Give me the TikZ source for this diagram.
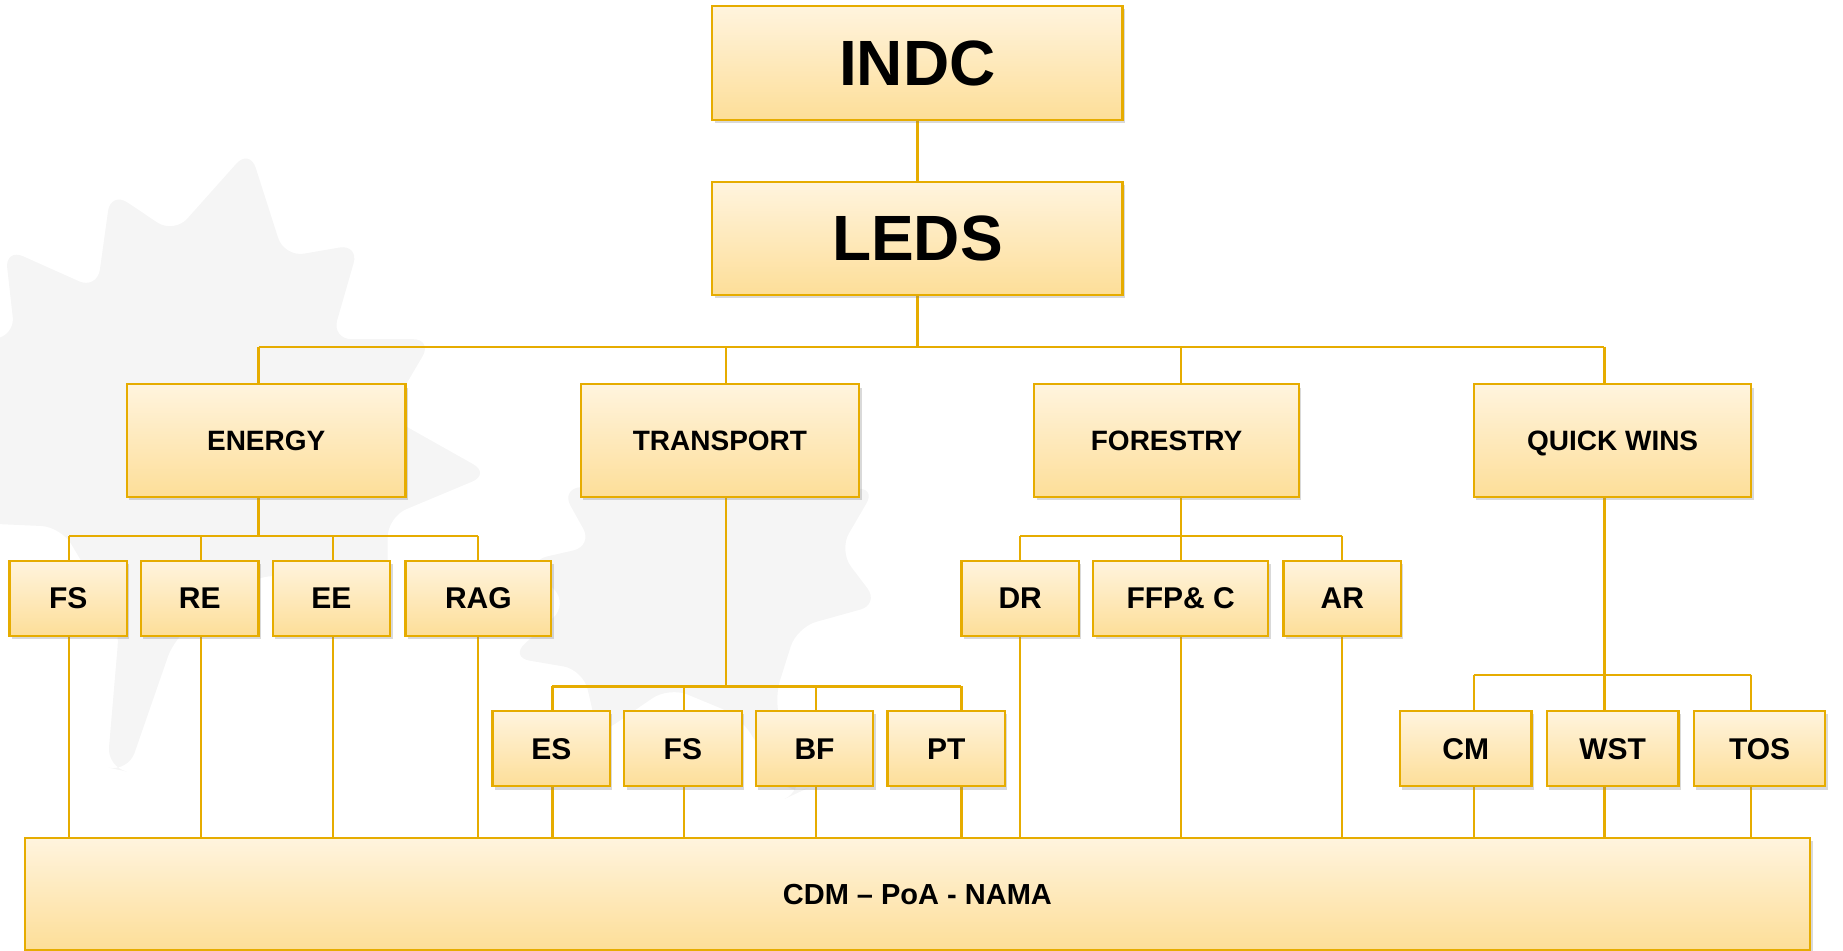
\documentclass[tikz,border=0pt]{standalone}
\usepackage{fontspec}
\setmainfont{Liberation Sans}
\usetikzlibrary{shadows,backgrounds}
\newcommand\U{0.5877pt}
\definecolor{gold}{RGB}{230,172,0}
\definecolor{ftop}{RGB}{255,244,222}
\definecolor{fbot}{RGB}{253,222,152}
\definecolor{leafgray}{RGB}{245,245,245}
\tikzset{
 box/.style={draw=gold, line width=1.1pt, top color=ftop, bottom color=fbot, inner sep=0pt,
   text depth=0pt,
   drop shadow={shadow xshift=1.2pt, shadow yshift=-1.6pt, opacity=0.3}},
 conn/.style={draw=gold, line width=1.1pt},
 leaf/.style={fill=leafgray, draw=none, rounded corners=10pt},
 bigtxt/.style={font=\bfseries\fontsize{32}{36}\selectfont},
 midtxt/.style={font=\bfseries\fontsize{14}{17}\selectfont},
 smalltxt/.style={font=\bfseries\fontsize{15}{18}\selectfont},
 cdmtxt/.style={font=\bfseries\fontsize{14.5}{17}\selectfont},
}
\newcommand\mybox[7]{\node[box,#7, minimum width={(#3-#2)*\U}, minimum height={(#5-#4)*\U}] (#1) at ({(#2+#3)/2},{(#4+#5)/2}) {#6};}
\newcommand\mapleleaf{(0,1) -- (0.16,0.72) -- (0.36,0.8) -- (0.34,0.52) -- (0.62,0.58) -- (0.54,0.34) -- (0.86,0.24) -- (0.6,0.06) -- (0.66,-0.22) -- (0.3,-0.16) -- (0.08,-0.4) -- (0.03,-0.8) -- (-0.03,-0.8) -- (-0.08,-0.4) -- (-0.3,-0.16) -- (-0.66,-0.22) -- (-0.6,0.06) -- (-0.86,0.24) -- (-0.54,0.34) -- (-0.62,0.58) -- (-0.34,0.52) -- (-0.36,0.8) -- (-0.16,0.72) -- cycle}
\begin{document}
\begin{tikzpicture}[x=\U,y=-\U]
\useasboundingbox (0,0) rectangle (1568,809);
\mybox{INDC}{606}{955}{5}{102}{INDC}{bigtxt}
\mybox{LEDS}{606}{955}{155}{251}{LEDS}{bigtxt}
\mybox{ENERGY}{108}{345}{327}{423}{ENERGY}{midtxt}
\mybox{TRANSPORT}{494}{731}{327}{423}{TRANSPORT}{midtxt}
\mybox{FORESTRY}{880}{1105}{327}{423}{FORESTRY}{midtxt}
\mybox{QW}{1254}{1490}{327}{423}{QUICK WINS}{midtxt}
\mybox{FS1}{8}{108}{477}{541}{FS}{smalltxt}
\mybox{RE}{120}{220}{477}{541}{RE}{smalltxt}
\mybox{EE}{232}{332}{477}{541}{EE}{smalltxt}
\mybox{RAG}{345}{469}{477}{541}{RAG}{smalltxt}
\mybox{ES}{419}{519}{605}{669}{ES}{smalltxt}
\mybox{FS2}{531}{631}{605}{669}{FS}{smalltxt}
\mybox{BF}{643}{743}{605}{669}{BF}{smalltxt}
\mybox{PT}{755}{855}{605}{669}{PT}{smalltxt}
\mybox{DR}{818}{918}{477}{541}{DR}{smalltxt}
\mybox{FFP}{930}{1079}{477}{541}{FFP\& C}{smalltxt}
\mybox{AR}{1092}{1192}{477}{541}{AR}{smalltxt}
\mybox{CM}{1191}{1303}{605}{669}{CM}{smalltxt}
\mybox{WST}{1316}{1428}{605}{669}{WST}{smalltxt}
\mybox{TOS}{1441}{1553}{605}{669}{TOS}{smalltxt}
\mybox{CDM}{21}{1540}{713}{808}{CDM – PoA - NAMA}{cdmtxt}
\coordinate (bus0) at (0,295);
\coordinate (busE) at (0,456);
\coordinate (busT) at (0,584);
\coordinate (busF) at (0,456);
\coordinate (busQ) at (0,574);
\begin{scope}[on background layer]
% faint watermark leaves
\begin{scope}[shift={(150,420)}, scale=300, yscale=-1, rotate=12]
  \fill[leaf] \mapleleaf;
\end{scope}
\begin{scope}[shift={(610,530)}, scale=200, yscale=-1, rotate=-25]
  \fill[leaf] \mapleleaf;
\end{scope}
\draw[conn] (INDC.south) -- (LEDS.north);
% top level
\draw[conn] (LEDS.south) -- (LEDS.south |- bus0);
\draw[conn] (bus0 -| 220,0) -- (bus0 -| 1365,0);
\foreach \n/\x in {ENERGY/220, TRANSPORT/618, FORESTRY/1005, QW/1365}
  \draw[conn] (bus0 -| \x,0) -- (\n.north -| \x,0);
% energy
\draw[conn] (ENERGY.south -| 220,0) -- (busE -| 220,0);
\draw[conn] (busE -| 59,0) -- (busE -| 407,0);
\foreach \n/\x in {FS1/59, RE/171, EE/283, RAG/407}{
  \draw[conn] (busE -| \x,0) -- (\n.north -| \x,0);
  \draw[conn] (\n.south -| \x,0) -- (CDM.north -| \x,0);}
% transport
\draw[conn] (TRANSPORT.south -| 618,0) -- (busT -| 618,0);
\draw[conn] (busT -| 470,0) -- (busT -| 818,0);
\foreach \n/\x in {ES/470, FS2/582, BF/694, PT/818}{
  \draw[conn] (busT -| \x,0) -- (\n.north -| \x,0);
  \draw[conn] (\n.south -| \x,0) -- (CDM.north -| \x,0);}
% forestry
\draw[conn] (FORESTRY.south -| 1005,0) -- (busF -| 1005,0);
\draw[conn] (busF -| 868,0) -- (busF -| 1142,0);
\foreach \n/\x in {DR/868, FFP/1005, AR/1142}{
  \draw[conn] (busF -| \x,0) -- (\n.north -| \x,0);
  \draw[conn] (\n.south -| \x,0) -- (CDM.north -| \x,0);}
% quick wins
\draw[conn] (QW.south -| 1365,0) -- (busQ -| 1365,0);
\draw[conn] (busQ -| 1254,0) -- (busQ -| 1490,0);
\foreach \n/\x in {CM/1254, WST/1365, TOS/1490}{
  \draw[conn] (busQ -| \x,0) -- (\n.north -| \x,0);
  \draw[conn] (\n.south -| \x,0) -- (CDM.north -| \x,0);}
\end{scope}
\end{tikzpicture}
\end{document}
